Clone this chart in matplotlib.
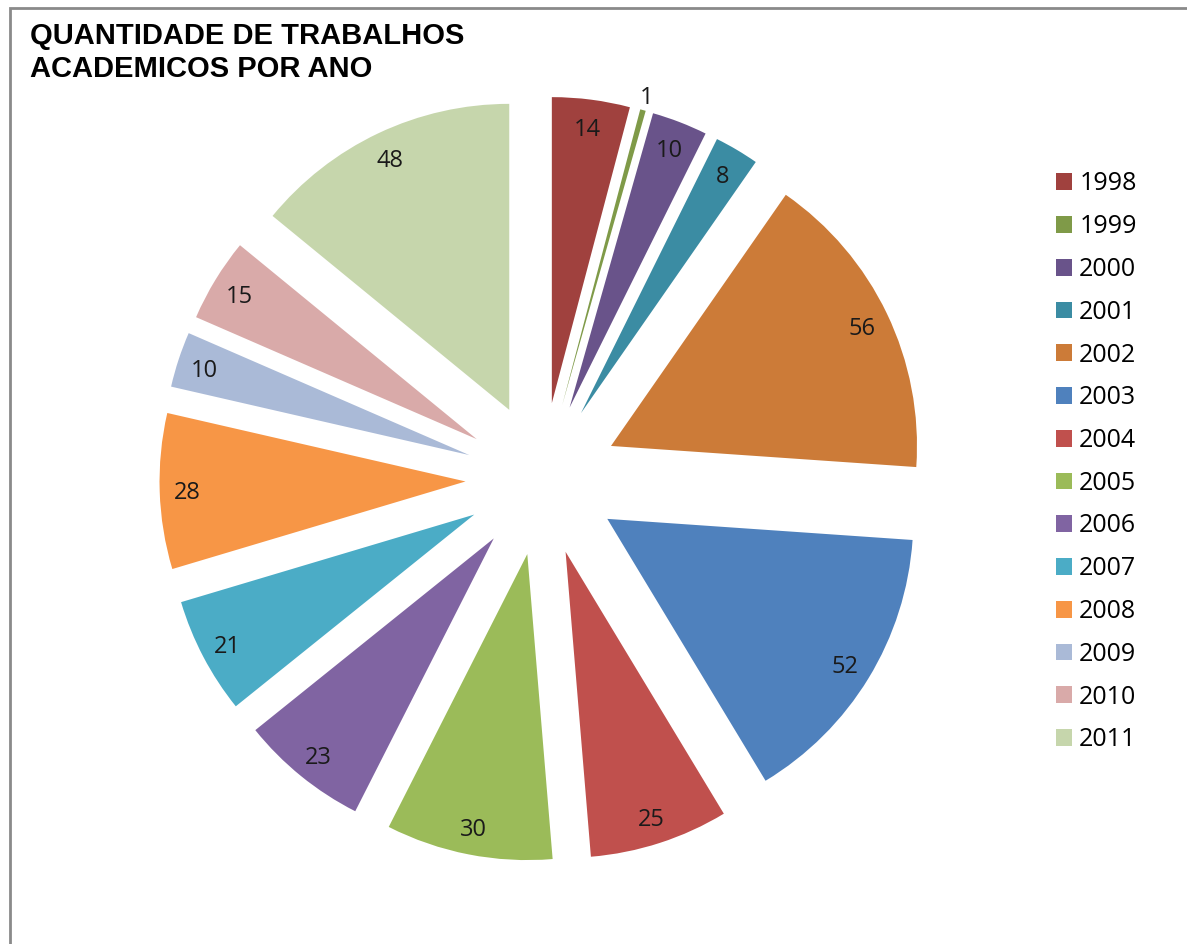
import math

import matplotlib
matplotlib.use('Agg')
import matplotlib.pyplot as plt
from matplotlib.patches import Rectangle

years = ['1998', '1999', '2000', '2001', '2002', '2003', '2004',
         '2005', '2006', '2007', '2008', '2009', '2010', '2011']
counts = [14, 1, 10, 8, 56, 52, 25, 30, 23, 21, 28, 10, 15, 48]
colors = ['#A0413E', '#7F9A48', '#69538A', '#3B8CA3', '#CC7B38',
          '#4F81BD', '#C0504D', '#9BBB59', '#8064A2', '#4BACC6',
          '#F79646', '#AABAD7', '#D9AAA9', '#C6D6AC']
title = 'QUANTIDADE DE TRABALHOS\nACADEMICOS POR ANO'

W, H = 1187, 944
R = 306
fig = plt.figure(figsize=(W / 100, H / 100), dpi=100)
ax = fig.add_axes([0, 0, 1, 1])

# grey chart frame, cut off at right and bottom like the screenshot
fig.patches.append(Rectangle((10 / W, -0.1), 1.2, (H - 8) / H + 0.1,
                             transform=fig.transFigure, fill=False,
                             edgecolor='#8a8a8a', linewidth=2))

total = sum(counts)
# explode is in data units here (radius is in pixels)
wedges, texts, autotexts = ax.pie(
    counts, colors=colors, startangle=90, counterclock=False,
    explode=[0.25 * R] * len(counts), center=(542, H - 479), radius=R,
    autopct=lambda p: '{:.0f}'.format(p * total / 100.0),
    pctdistance=0.91, frame=True,
    textprops=dict(fontsize=17, family='Open Sans', color='#1a1a1a'))
ax.set_xlim(0, W)
ax.set_ylim(0, H)
ax.axis('off')

for w, t, c in zip(wedges, autotexts, counts):
    t.set_va('center_baseline')
    # tiny slice: label sits outside the wedge
    if c < 3:
        th = math.radians((w.theta1 + w.theta2) / 2)
        cx, cy = w.center
        t.set_position((cx + 1.05 * w.r * math.cos(th),
                        cy + 1.05 * w.r * math.sin(th)))

fig.text(30 / W, 1 - 22 / H, title, ha='left', va='top',
         fontsize=21, fontweight='bold', family='Liberation Sans',
         linespacing=1.22)

leg = ax.legend(wedges, years, loc='upper left',
                bbox_to_anchor=(1033 / W, 1 - 149 / H),
                frameon=False, prop=dict(family='Open Sans', size=18),
                handlelength=0.65, handleheight=0.65, handletextpad=0.3,
                labelspacing=0.71)

fig.savefig('out.png', dpi=100)
